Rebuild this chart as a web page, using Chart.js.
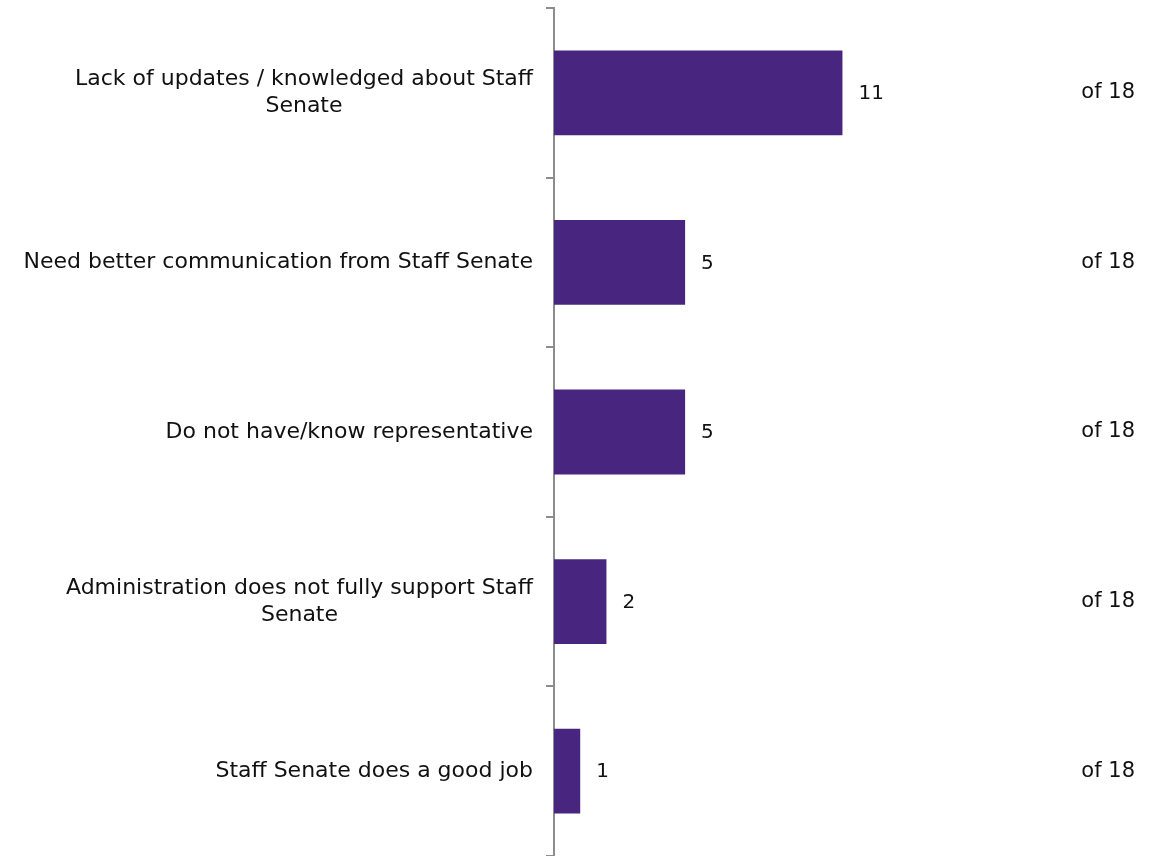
<!DOCTYPE html>
<html>
<head>
<meta charset="utf-8">
<script src="https://cdn.jsdelivr.net/npm/chart.js@4/dist/chart.umd.min.js"></script>
<style>
  html, body { margin: 0; padding: 0; background: #ffffff; }
  #wrap { width: 1162px; height: 856px; position: relative; }
</style>
</head>
<body>
<div id="wrap"><canvas id="chart"></canvas></div>
<script>
// Survey responses: reasons given, out of 18 respondents
const categories = [
  ["Lack of updates / knowledged about Staff", "Senate"],
  ["Need better communication from Staff Senate"],
  ["Do not have/know representative"],
  ["Administration does not fully support Staff", "Senate"],
  ["Staff Senate does a good job"]
];
const counts = [11, 5, 5, 2, 1];
const totalRespondents = 18;

const FONT = '"DejaVu Sans", "Noto Sans", sans-serif';
const BAR_COLOR = '#482680';
const AXIS_COLOR = '#8c8c8c';

// Category labels, value labels and the "of N" totals
const labelPlugin = {
  id: 'labelPlugin',
  afterDatasetsDraw(chart) {
    const ctx = chart.ctx;
    const y = chart.scales.y;
    const x = chart.scales.x;
    const area = chart.chartArea;
    ctx.save();
    ctx.fillStyle = '#111111';
    ctx.textBaseline = 'middle';

    // category labels: right-aligned block, lines centered within it
    ctx.font = '22px ' + FONT;
    const right = area.left - 21;
    const lineH = 27;
    categories.forEach((lines, i) => {
      const cy = y.getPixelForValue(i);
      const blockW = Math.max(...lines.map(l => ctx.measureText(l).width));
      const cx = right - blockW / 2;
      ctx.textAlign = 'center';
      lines.forEach((l, k) => {
        const ly = cy + (k - (lines.length - 1) / 2) * lineH;
        ctx.fillText(l, cx, ly);
      });
    });

    // value labels beside bars
    ctx.font = '20px ' + FONT;
    ctx.textAlign = 'left';
    counts.forEach((v, i) => {
      ctx.fillText(String(v), x.getPixelForValue(v) + 16, y.getPixelForValue(i) + 1);
    });

    // totals at the right edge
    ctx.font = '21px ' + FONT;
    ctx.textAlign = 'right';
    counts.forEach((v, i) => {
      ctx.fillText('of ' + totalRespondents, 1135, y.getPixelForValue(i));
    });
    ctx.restore();
  }
};

new Chart(document.getElementById('chart'), {
  type: 'bar',
  data: {
    labels: categories,
    datasets: [{
      data: counts,
      backgroundColor: BAR_COLOR,
      borderWidth: 0,
      categoryPercentage: 1.0,
      barPercentage: 0.5
    }]
  },
  options: {
    indexAxis: 'y',
    responsive: true,
    maintainAspectRatio: false,
    animation: false,
    layout: { padding: { top: 8, right: 136, bottom: 0, left: 0 } },
    plugins: {
      legend: { display: false },
      tooltip: { enabled: false },
      title: { display: false }
    },
    scales: {
      x: {
        display: false,
        min: 0,
        max: totalRespondents
      },
      y: {
        offset: true,
        ticks: { display: false },
        grid: {
          offset: true,
          drawOnChartArea: false,
          drawTicks: true,
          tickLength: 8,
          color: AXIS_COLOR,
          lineWidth: 2
        },
        border: { display: true, color: AXIS_COLOR, width: 2 },
        afterFit(scale) { scale.width = 554; }
      }
    }
  },
  plugins: [labelPlugin]
});
</script>
</body>
</html>
